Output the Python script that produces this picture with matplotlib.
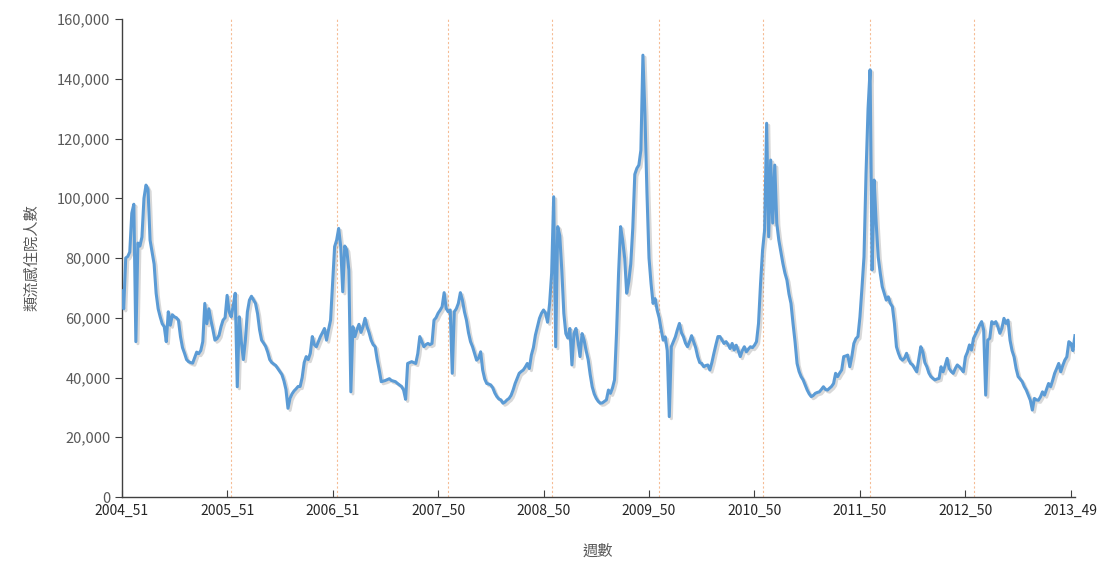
import matplotlib
matplotlib.use("Agg")
import matplotlib.pyplot as plt
import matplotlib.patheffects as pe
from matplotlib.ticker import FuncFormatter

plt.rcParams['font.family'] = ['Noto Sans CJK TC', 'DejaVu Sans']

# weekly hospitalisations from 2004_51 on
cases = [
    69000, 63000, 80000, 80500, 82000, 95000, 98000, 52000, 85000, 84000,
    87000, 100000, 104400, 103000, 86000, 82000, 78000, 68200, 63000, 60300,
    58000, 57000, 52000, 62000, 57500, 61000, 60300, 60000, 59200, 53700,
    50000, 48100, 46000, 45300, 45000, 44800, 46700, 48500, 48000, 49000,
    52000, 64800, 58000, 63000, 59200, 56000, 52500, 53000, 54100, 57000,
    59200, 60000, 67500, 62000, 60300, 64000, 68200, 36900, 60300, 52000,
    46000, 52500, 62000, 65900, 67200, 66000, 64800, 61400, 56000, 52500,
    51500, 50400, 48500, 46000, 45000, 44500, 44000, 43000, 42000, 41000,
    38900, 36000, 29700, 33000, 34500, 35500, 36200, 37000, 37000, 40000,
    45000, 47000, 46000, 48100, 53700, 51000, 50300, 52000, 53700, 55000,
    56400, 52500, 56000, 59200, 71500, 83800, 86000, 89900, 83800, 68700,
    84000, 82700, 76000, 35200, 57000, 53700, 56000, 57800, 55100, 57000,
    59800, 57000, 55000, 52500, 51000, 50300, 46000, 42500, 38600, 38800,
    39000, 39300, 39600, 39000, 38800, 38600, 38000, 37500, 37000, 35800,
    32700, 44700, 45000, 45300, 45000, 44700, 48000, 53700, 52000, 50300,
    51000, 51400, 51000, 51400, 59200, 60000, 61500, 62500, 63700, 68400,
    63100, 62000, 62600, 41400, 62000, 63000, 64800, 68400, 65900, 62000,
    59200, 55000, 52000, 50300, 48000, 45800, 46500, 48600, 42500, 39500,
    38000, 37800, 37500, 36500, 34800, 33600, 32800, 32500, 31400, 31800,
    32500, 33000, 34000, 35800, 38000, 39700, 41400, 42000, 42500, 43500,
    44700, 43000, 47500, 50000, 54200, 57000, 59800, 61500, 62600, 61500,
    58500, 64800, 74900, 100500, 50300, 90500, 87500, 76000, 61500, 54700,
    53200, 56400, 44200, 54700, 56400, 52000, 47000, 54700, 52500, 49000,
    46000, 41000, 36900, 34500, 33000, 32000, 31400, 31500, 32000, 32500,
    35800, 34700, 36500, 39200, 55000, 75000, 90500, 86000, 80000, 68200,
    72000, 78000, 90000, 108000, 110000, 111100, 116100, 147900, 128000, 101600,
    80000, 71500, 64800, 66400, 62600, 60000, 56000, 52500, 53600, 49000,
    26900, 50300, 52000, 53600, 56000, 58100, 55000, 53600, 51500, 50300,
    52000, 54000, 52000, 50000, 47000, 45000, 44700, 43600, 44000, 44200,
    42500, 45000, 48100, 51000, 53700, 53700, 52500, 51400, 52000, 51000,
    49700, 51400, 49200, 50800, 49000, 47000, 49000, 50300, 48600, 49500,
    50300, 50000, 50800, 52000, 58100, 71500, 82700, 89400, 125100, 87100,
    112800, 91700, 111100, 91600, 86000, 82000, 78200, 75000, 72600, 68000,
    64800, 58100, 52000, 44700, 42000, 40300, 39200, 37500, 35800, 34500,
    33600, 34000, 34700, 35000, 35200, 36000, 36900, 36000, 35800, 36400,
    37000, 38000, 41400, 40300, 41500, 42500, 47000, 47200, 47500, 43600,
    47000, 51400, 53000, 53700, 60300, 70000, 80400, 108300, 130000, 143000,
    76000, 106100, 91700, 80400, 75000, 70400, 68200, 65900, 67000, 64800,
    63700, 58100, 50300, 48100, 46400, 45800, 46500, 48100, 46000, 44700,
    44200, 43000, 41900, 46000, 50300, 48600, 45000, 43600, 41500, 40300,
    39700, 39200, 39500, 39700, 43600, 41900, 44000, 46400, 43000, 42000,
    41400, 43000, 44200, 43600, 42800, 41900, 46900, 48500, 50900, 49200,
    53100, 54500, 55900, 57500, 58700, 55900, 34100, 52500, 53100, 58700,
    58000, 58700, 57000, 54800, 56500, 59800, 58100, 59200, 52500, 49000,
    46900, 43000, 40300, 39500, 38600, 37000, 35800, 34100, 32400, 29100,
    33000, 32500, 32400, 33500, 35200, 34100, 36000, 38000, 36900, 39000,
    41400, 43000, 44700, 41900, 44000, 45800, 46900, 52000, 51400, 49000,
    54000,
]
tick_labels = ['2004_51', '2005_51', '2006_51', '2007_50', '2008_50',
               '2009_50', '2010_50', '2011_50', '2012_50', '2013_49']
# week index where each new year starts (dashed markers)
year_starts = [54, 106, 161, 212, 265, 316, 369, 420]

fig = plt.figure(figsize=(11.13, 5.66), dpi=100)
ax = fig.add_axes([0.1093, 0.1219, 0.8565, 0.8445])

weeks = range(len(cases))
for ys in year_starts:
    ax.axvline(ys, color='#F4B183', lw=0.8, ls=(0, (2, 2)), alpha=0.85, zorder=1)

ax.plot(weeks, cases, color='#5B9BD5', lw=2.2, solid_joinstyle='round', zorder=3,
        path_effects=[pe.SimpleLineShadow(offset=(1.5, -1.5), shadow_color='#7f7f7f', alpha=0.3),
                      pe.Normal()])

ax.set_xlim(0, len(cases) - 1)
ax.set_ylim(0, 160000)
ax.set_xticks(range(0, 469, 52))
ax.set_xticklabels(tick_labels)
ax.set_yticks(range(0, 160001, 20000))
ax.yaxis.set_major_formatter(FuncFormatter(lambda v, p: f"{int(v):,}"))

for s in ['top', 'right']:
    ax.spines[s].set_visible(False)
for s in ['left', 'bottom']:
    ax.spines[s].set_color('#404040')
    ax.spines[s].set_linewidth(1.0)
ax.tick_params(axis='y', direction='out', length=5, color='#404040', labelsize=10.5,
               labelcolor='#595959', pad=3)
ax.tick_params(axis='x', direction='in', length=5, color='#404040', labelsize=10,
               labelcolor='#262626', pad=5)

ax.set_ylabel('類流感住院人數', fontsize=11, color='#595959', labelpad=12)
ax.set_xlabel('週數', fontsize=11, color='#595959', labelpad=18)

fig.savefig('out.png', dpi=100)
